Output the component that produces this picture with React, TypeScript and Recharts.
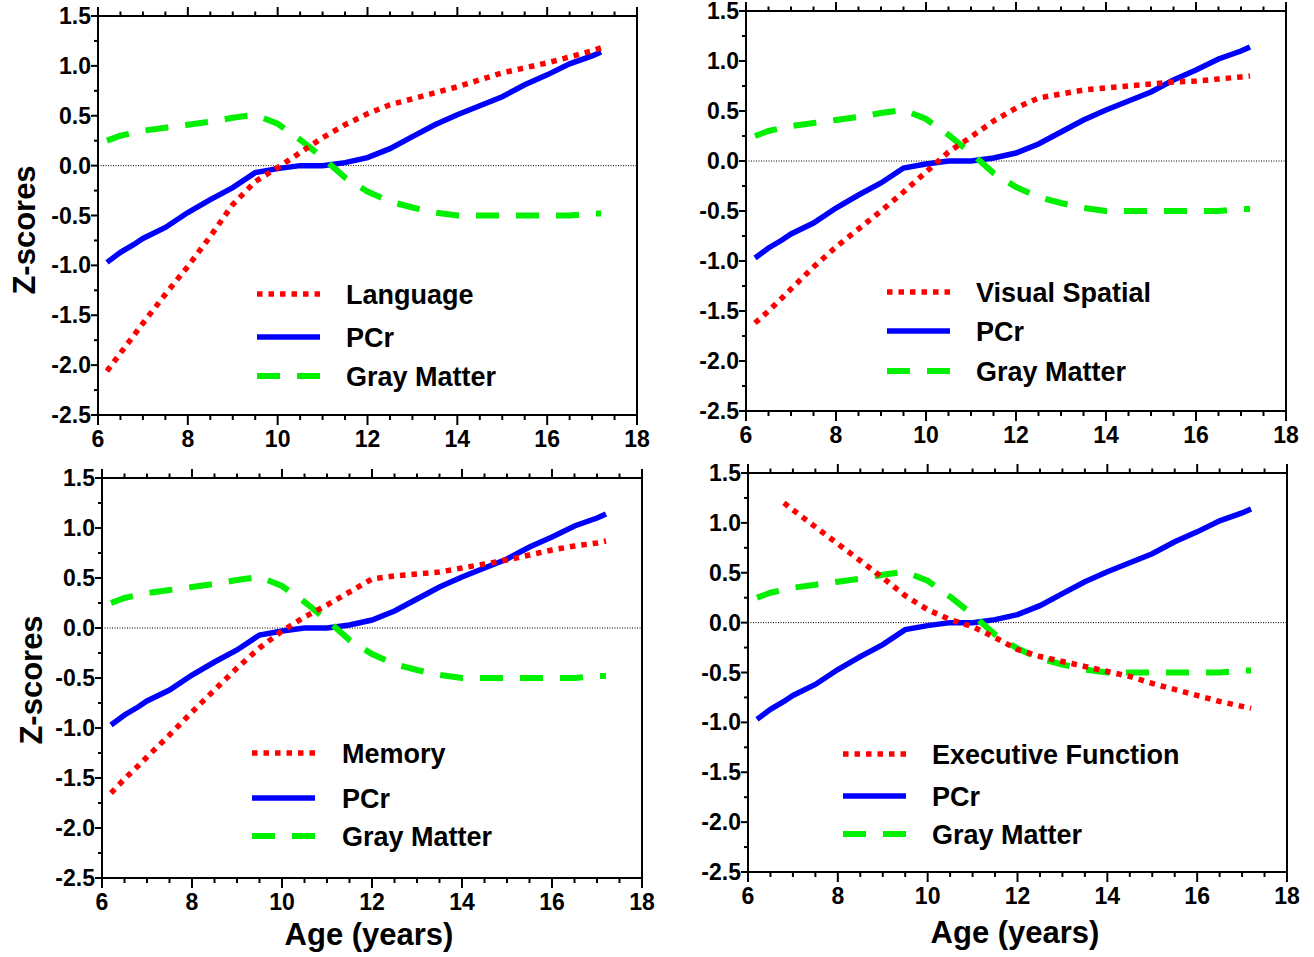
import React from 'react';
import { LineChart, Line, XAxis, YAxis, ReferenceLine } from 'recharts';

// ---- data ----
const ages = [6.2, 6.5, 6.8, 7.0, 7.5, 8.0, 8.5, 9.0, 9.5, 10.0, 10.5, 11.0, 11.5, 12.0, 12.5, 13.0, 13.5, 14.0, 14.5, 15.0, 15.5, 16.0, 16.5, 17.0, 17.2];
const pcr = [-0.97, -0.87, -0.79, -0.73, -0.62, -0.47, -0.34, -0.22, -0.07, -0.03, 0.0, 0.0, 0.03, 0.08, 0.17, 0.29, 0.41, 0.51, 0.6, 0.69, 0.81, 0.91, 1.02, 1.1, 1.14];
const grayMatter = [0.25, 0.3, 0.33, 0.35, 0.38, 0.41, 0.44, 0.48, 0.51, 0.42, 0.26, 0.08, -0.12, -0.26, -0.36, -0.42, -0.47, -0.5, -0.5, -0.5, -0.5, -0.5, -0.5, -0.48, -0.48];
const language = [-2.06, -1.88, -1.7, -1.58, -1.29, -1.01, -0.71, -0.39, -0.16, -0.02, 0.13, 0.28, 0.41, 0.52, 0.61, 0.67, 0.73, 0.79, 0.86, 0.93, 0.98, 1.03, 1.09, 1.15, 1.18];
const visualSpatial = [-1.62, -1.5, -1.37, -1.28, -1.06, -0.86, -0.68, -0.5, -0.31, -0.11, 0.09, 0.24, 0.4, 0.53, 0.63, 0.67, 0.71, 0.73, 0.75, 0.77, 0.79, 0.8, 0.82, 0.84, 0.85];
const memory = [-1.65, -1.51, -1.38, -1.29, -1.07, -0.84, -0.62, -0.4, -0.2, -0.03, 0.11, 0.23, 0.36, 0.49, 0.52, 0.54, 0.56, 0.6, 0.64, 0.68, 0.73, 0.78, 0.82, 0.85, 0.87];
const executive = [null, null, 1.2, 1.13, 0.96, 0.79, 0.62, 0.45, 0.27, 0.13, 0.03, -0.04, -0.15, -0.27, -0.34, -0.39, -0.44, -0.49, -0.54, -0.61, -0.67, -0.73, -0.79, -0.84, -0.86];

const xTicks = [6, 6.5, 7, 7.5, 8, 8.5, 9, 9.5, 10, 10.5, 11, 11.5, 12, 12.5, 13, 13.5, 14, 14.5, 15, 15.5, 16, 16.5, 17, 17.5, 18];
const yTicks = [-2.5, -2.25, -2, -1.75, -1.5, -1.25, -1, -0.75, -0.5, -0.25, 0, 0.25, 0.5, 0.75, 1, 1.25, 1.5];

const seriesNames = ['PCr', 'Gray Matter'];
const yTitle = 'Z-scores';
const xTitle = 'Age (years)';

// ---- layout / style ----
const FONT = "'Liberation Sans', Arial, Helvetica, sans-serif";
const RED = '#ff0000';
const BLUE = '#0000ff';
const GREEN = '#00f000';
const LEFT_W = 60;
const RIGHT_W = 14;
const TOP_H = 12;
const BOTTOM_H = 40;
const TICK_FS = 23;
const LEG_FS = 27;
const TITLE_FS = 31;

type PanelCfg = {
  name: string;
  values: (number | null)[];
  L: number; T: number; R: number; B: number;
  legX1: number; legX2: number; legYs: number[]; legTextX: number;
  showY: boolean; yTitleX: number; yTitleY: number;
  showX: boolean; xTitleX: number; xTitleY: number;
};

const panels: PanelCfg[] = [
  { name: 'Language', values: language, L: 98, T: 16, R: 637, B: 415,
    legX1: 257, legX2: 320, legYs: [294, 337, 376], legTextX: 346,
    showY: true, yTitleX: 35, yTitleY: 230, showX: false, xTitleX: 0, xTitleY: 0 },
  { name: 'Visual Spatial', values: visualSpatial, L: 746, T: 11, R: 1286, B: 411,
    legX1: 887, legX2: 950, legYs: [292, 331, 371], legTextX: 976,
    showY: false, yTitleX: 0, yTitleY: 0, showX: false, xTitleX: 0, xTitleY: 0 },
  { name: 'Memory', values: memory, L: 102, T: 478, R: 642, B: 878,
    legX1: 252, legX2: 315, legYs: [753, 798, 836], legTextX: 342,
    showY: true, yTitleX: 41.5, yTitleY: 680, showX: true, xTitleX: 369, xTitleY: 945 },
  { name: 'Executive Function', values: executive, L: 748, T: 473, R: 1287, B: 872,
    legX1: 843, legX2: 906, legYs: [754, 796, 834], legTextX: 932,
    showY: false, yTitleX: 0, yTitleY: 0, showX: true, xTitleX: 1015, xTitleY: 943 },
];

const isMultiple = (v: number, step: number) => Math.abs(v / step - Math.round(v / step)) < 1e-6;

const textStyle = { fontFamily: FONT, fontWeight: 700 as const, fill: '#000' };

const BottomTick = (p: any) => {
  const v = p.payload.value;
  const major = isMultiple(v, 2);
  return (
    <g>
      <line x1={p.x} y1={p.y} x2={p.x} y2={p.y + (major ? 10 : 5)} stroke="#000" strokeWidth={2} />
      {major && (
        <text x={p.x} y={p.y + 32} textAnchor="middle" fontSize={TICK_FS} style={textStyle}>{String(v)}</text>
      )}
    </g>
  );
};

const TopTick = (p: any) => {
  const v = p.payload.value;
  const major = isMultiple(v, 2);
  return <line x1={p.x} y1={p.y} x2={p.x} y2={p.y - (major ? 9 : 4.5)} stroke="#000" strokeWidth={2} />;
};

const LeftTick = (p: any) => {
  const v = p.payload.value;
  const major = isMultiple(v, 0.5);
  return (
    <g>
      <line x1={p.x} y1={p.y} x2={p.x - (major ? 7 : 4)} y2={p.y} stroke="#000" strokeWidth={2} />
      {major && (
        <text x={p.x - 7} y={p.y + 8} textAnchor="end" fontSize={TICK_FS} style={textStyle}>{v.toFixed(1)}</text>
      )}
    </g>
  );
};

const RightTick = (p: any) => {
  const v = p.payload.value;
  const major = isMultiple(v, 0.5);
  return <line x1={p.x} y1={p.y} x2={p.x + (major ? 8 : 4)} y2={p.y} stroke="#000" strokeWidth={2} />;
};

const axisLine = { stroke: '#000', strokeWidth: 2 };

function Panel({ cfg }: { cfg: PanelCfg }) {
  const W = cfg.R - cfg.L + LEFT_W + RIGHT_W;
  const H = cfg.B - cfg.T + TOP_H + BOTTOM_H;
  const data = ages.map((a, i) => ({ age: a, pcr: pcr[i], gm: grayMatter[i], cog: cfg.values[i] }));
  return (
    <div style={{ position: 'absolute', left: cfg.L - LEFT_W, top: cfg.T - TOP_H, width: W, height: H }}>
      <LineChart width={W} height={H} data={data} margin={{ top: 0, right: 0, bottom: 0, left: 0 }} style={{ overflow: 'visible' }}>
        <XAxis xAxisId="bottom" dataKey="age" type="number" domain={[6, 18]} ticks={xTicks} interval={0}
          height={BOTTOM_H} tickSize={0} tickMargin={0} tickLine={false} axisLine={axisLine}
          tick={(p: any) => <BottomTick {...p} />} />
        <XAxis xAxisId="top" orientation="top" dataKey="age" type="number" domain={[6, 18]} ticks={xTicks} interval={0}
          height={TOP_H} tickSize={0} tickMargin={0} tickLine={false} axisLine={axisLine}
          tick={(p: any) => <TopTick {...p} />} />
        <YAxis yAxisId="left" type="number" domain={[-2.5, 1.5]} ticks={yTicks} interval={0}
          width={LEFT_W} tickSize={0} tickMargin={0} tickLine={false} axisLine={axisLine}
          tick={(p: any) => <LeftTick {...p} />} />
        <YAxis yAxisId="right" orientation="right" type="number" domain={[-2.5, 1.5]} ticks={yTicks} interval={0}
          width={RIGHT_W} tickSize={0} tickMargin={0} tickLine={false} axisLine={axisLine}
          tick={(p: any) => <RightTick {...p} />} />
        <ReferenceLine xAxisId="bottom" yAxisId="left" y={0} stroke="#000" strokeWidth={1} strokeDasharray="1 1.5" />
        <Line xAxisId="bottom" yAxisId="left" type="linear" dataKey="pcr" name={seriesNames[0]} stroke={BLUE}
          strokeWidth={5.5} dot={false} activeDot={false} isAnimationActive={false} />
        <Line xAxisId="bottom" yAxisId="left" type="linear" dataKey="gm" name={seriesNames[1]} stroke={GREEN}
          strokeWidth={6} strokeDasharray="23 17" dot={false} activeDot={false} isAnimationActive={false} />
        <Line xAxisId="bottom" yAxisId="left" type="linear" dataKey="cog" name={cfg.name} stroke={RED}
          strokeWidth={5.5} strokeDasharray="5.5 6" dot={false} activeDot={false} isAnimationActive={false} />
      </LineChart>
    </div>
  );
}

function Overlay() {
  return (
    <svg width={1314} height={957} style={{ position: 'absolute', left: 0, top: 0, pointerEvents: 'none' }}>
      {panels.map((c) => {
        const labels = [c.name, seriesNames[0], seriesNames[1]];
        const styles = [
          { stroke: RED, dash: '5.5 6', w: 5.5 },
          { stroke: BLUE, dash: undefined, w: 5.5 },
          { stroke: GREEN, dash: '23 17', w: 6 },
        ];
        return (
          <g key={c.name}>
            {labels.map((lab, i) => (
              <g key={lab}>
                <line x1={c.legX1} x2={c.legX2} y1={c.legYs[i]} y2={c.legYs[i]} stroke={styles[i].stroke}
                  strokeWidth={styles[i].w} strokeDasharray={styles[i].dash} />
                <text x={c.legTextX} y={c.legYs[i] + 9.5} fontSize={LEG_FS} style={textStyle}>{lab}</text>
              </g>
            ))}
            {c.showY && (
              <text x={c.yTitleX} y={c.yTitleY} textAnchor="middle" fontSize={TITLE_FS} style={textStyle}
                transform={`rotate(-90, ${c.yTitleX}, ${c.yTitleY})`}>{yTitle}</text>
            )}
            {c.showX && (
              <text x={c.xTitleX} y={c.xTitleY} textAnchor="middle" fontSize={TITLE_FS} style={textStyle}>{xTitle}</text>
            )}
          </g>
        );
      })}
    </svg>
  );
}

export default function App() {
  return (
    <div style={{ position: 'absolute', left: 0, top: 0, width: 1314, height: 957, background: '#fff', overflow: 'hidden' }}>
      {panels.map((c) => <Panel key={c.name} cfg={c} />)}
      <Overlay />
    </div>
  );
}
